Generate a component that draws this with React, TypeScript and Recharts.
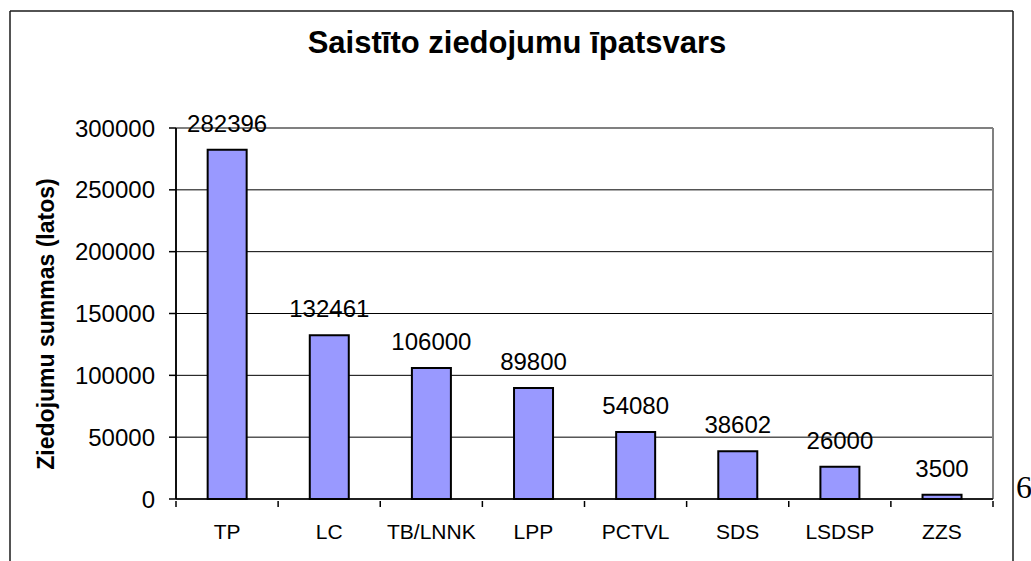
import React from 'react';
import { BarChart, Bar, XAxis, YAxis, CartesianGrid, LabelList } from 'recharts';

// Values
const categories = ['TP', 'LC', 'TB/LNNK', 'LPP', 'PCTVL', 'SDS', 'LSDSP', 'ZZS'];
const amounts = [282396, 132461, 106000, 89800, 54080, 38602, 26000, 3500];
const yTicks = [0, 50000, 100000, 150000, 200000, 250000, 300000];

const chartTitle = 'Saistīto ziedojumu īpatsvars';
const yAxisTitle = 'Ziedojumu summas (latos)';
const pageNumber = '6';

const data = categories.map((name, i) => ({ name, value: amounts[i] }));

const FONT = '"Liberation Sans", Arial, Helvetica, sans-serif';
const W = 1031;
const H = 561;
const MARGIN = { top: 128, right: 38, bottom: 22, left: 0 };
const Y_AXIS_W = 176;
const X_AXIS_H = 40;
const PLOT_LEFT = MARGIN.left + Y_AXIS_W;
const PLOT_BOTTOM = H - MARGIN.bottom - X_AXIS_H;

// category label plus the small tick marks that sit between the categories
const CategoryTick = (props: any) => {
  const { x, y, payload, index, visibleTicksCount } = props;
  const half = payload.offset || 0;
  const isLast = index === visibleTicksCount - 1;
  return (
    <g>
      <line x1={x - half} y1={y} x2={x - half} y2={y + 6} stroke="#000" strokeWidth={1.5} />
      {isLast && <line x1={x + half} y1={y} x2={x + half} y2={y + 6} stroke="#000" strokeWidth={1.5} />}
      <text x={x} y={y + 23} dy="0.71em" textAnchor="middle" fill="#000" fontSize={21} fontFamily={FONT}>
        {payload.value}
      </text>
    </g>
  );
};

const App: React.FC = () => {
  return (
    <div style={{ position: 'absolute', left: 0, top: 0, width: W, height: H, overflow: 'hidden', background: '#fff' }}>
      <BarChart width={W} height={H} data={data} margin={MARGIN} barCategoryGap="31%">
        <CartesianGrid vertical={false} stroke="#000" strokeWidth={1} />
        {/* grey top and right edges of the plot area */}
        <CartesianGrid
          stroke="#808080"
          strokeWidth={2}
          horizontalCoordinatesGenerator={({ offset }: any) => [offset.top]}
          verticalCoordinatesGenerator={({ offset }: any) => [offset.left + offset.width]}
        />
        <XAxis
          dataKey="name"
          height={X_AXIS_H}
          tickLine={false}
          tickSize={0}
          axisLine={{ stroke: '#000', strokeWidth: 1.5 }}
          tick={<CategoryTick />}
          interval={0}
        />
        <YAxis
          width={Y_AXIS_W}
          domain={[0, 300000]}
          ticks={yTicks}
          interval={0}
          tickSize={7}
          tickMargin={14}
          axisLine={{ stroke: '#000', strokeWidth: 1.5 }}
          tickLine={{ stroke: '#000', strokeWidth: 1.5 }}
          tick={{ fill: '#000', fontSize: 24, fontFamily: FONT }}
        />
        <Bar dataKey="value" fill="#9999FF" stroke="#000" strokeWidth={2} isAnimationActive={false}>
          <LabelList
            dataKey="value"
            position="top"
            offset={18}
            fill="#000"
            style={{ fontSize: 24, fontFamily: FONT }}
          />
        </Bar>
      </BarChart>

      <svg
        width={W}
        height={H}
        style={{ position: 'absolute', left: 0, top: 0, pointerEvents: 'none' }}
      >
        {/* outer frame, cut off at the bottom of the picture */}
        <line x1={10} y1={11} x2={1013} y2={11} stroke="#1a1a1a" strokeWidth={1.5} />
        <line x1={10} y1={11} x2={10} y2={H + 5} stroke="#1a1a1a" strokeWidth={1.5} />
        <line x1={1013} y1={11} x2={1013} y2={H + 5} stroke="#1a1a1a" strokeWidth={1.5} />

        {/* value axis line */}
        <line x1={PLOT_LEFT} y1={MARGIN.top} x2={PLOT_LEFT} y2={PLOT_BOTTOM} stroke="#000" strokeWidth={1.5} />

        <text x={517} y={53} textAnchor="middle" fontFamily={FONT} fontWeight="bold" fontSize={31} fill="#000">
          {chartTitle}
        </text>

        <text
          x={0}
          y={0}
          transform="translate(54,324) rotate(-90)"
          textAnchor="middle"
          fontFamily={FONT}
          fontWeight="bold"
          fontSize={23}
          fill="#000"
        >
          {yAxisTitle}
        </text>

        <text x={1016} y={498} fontFamily='"Liberation Serif", "Times New Roman", serif' fontSize={32} fill="#000">
          {pageNumber}
        </text>
      </svg>
    </div>
  );
};

export default App;
